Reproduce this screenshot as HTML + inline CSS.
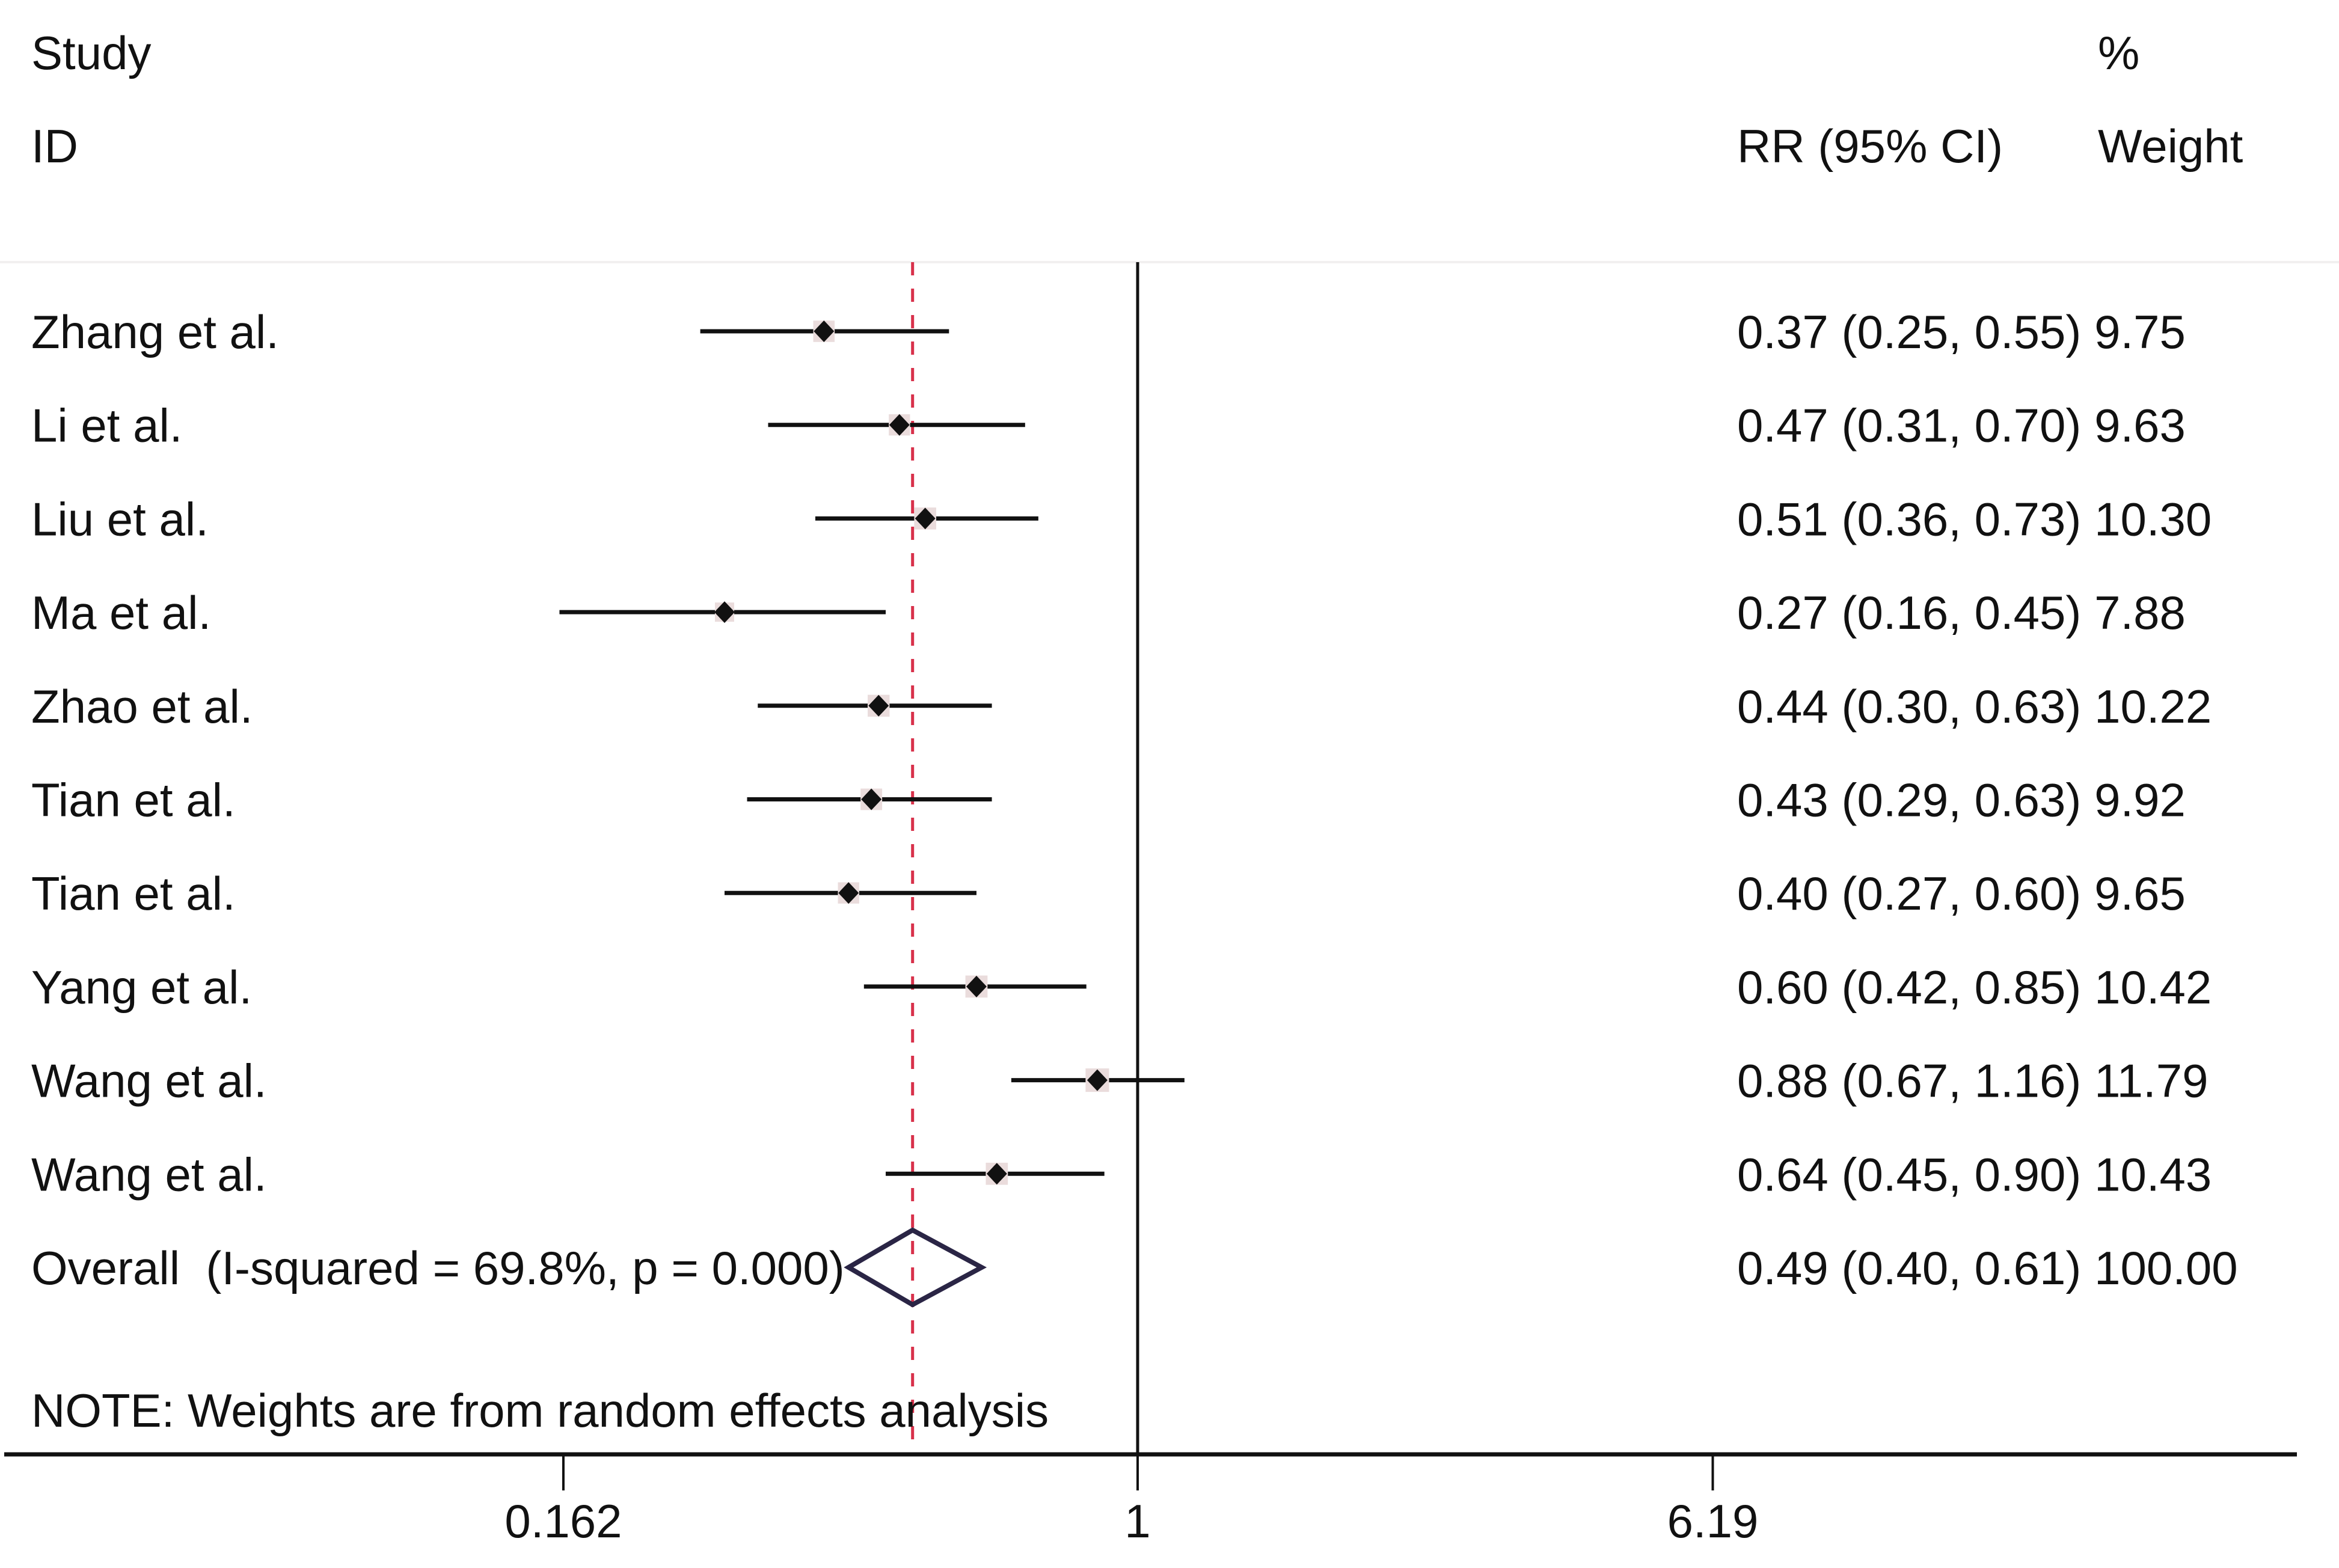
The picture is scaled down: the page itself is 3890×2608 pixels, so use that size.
<!DOCTYPE html>
<html><head><meta charset="utf-8"><style>
html,body{margin:0;padding:0;background:#fff;}
svg{display:block;}
text{font-family:"Liberation Sans",Arial,sans-serif;font-size:78px;fill:#111;}
</style></head><body>
<svg id="chart" width="3890" height="2608" viewBox="0 0 3890 2608" xmlns="http://www.w3.org/2000/svg">
<rect width="3890" height="2608" fill="#fff"/>
<text x="52" y="115">Study</text>
<text x="52" y="270">ID</text>
<text x="2889" y="270">RR (95% CI)</text>
<text x="3489" y="115">%</text>
<text x="3489" y="270">Weight</text>
<line x1="0" y1="436" x2="3890" y2="436" stroke="#f2f0f0" stroke-width="4"/>
<g id="plot"></g>
<text x="52" y="2373">NOTE: Weights are from random effects analysis</text>
</svg>
<script>
const studies = ["Zhang et al.","Li et al.","Liu et al.","Ma et al.","Zhao et al.","Tian et al.","Tian et al.","Yang et al.","Wang et al.","Wang et al."];
const rr = [0.37,0.47,0.51,0.27,0.44,0.43,0.40,0.60,0.88,0.64];
const lower = [0.25,0.31,0.36,0.16,0.30,0.29,0.27,0.42,0.67,0.45];
const upper = [0.55,0.70,0.73,0.45,0.63,0.63,0.60,0.85,1.16,0.90];
const weights = ["9.75","9.63","10.30","7.88","10.22","9.92","9.65","10.42","11.79","10.43"];
const overall = [0.49,0.40,0.61];
const overallWeight = "100.00";
const overallLabel = "Overall  (I-squared = 69.8%, p = 0.000)";
const tickValues = [0.162,1,6.19];
const tickLabels = ["0.162","1","6.19"];

const NS="http://www.w3.org/2000/svg";
const g=document.getElementById('plot');
const X0=1892, K=524.7;
const xs=v=>X0+K*Math.log(v);
const rowY=i=>551+155.7*i;
const AXY=2419;
function mk(tag,attrs,parent){const e=document.createElementNS(NS,tag);for(const k in attrs)e.setAttribute(k,attrs[k]);(parent||g).appendChild(e);return e;}
const fmt=v=>v.toFixed(2);

let e=mk('line',{x1:X0,y1:436,x2:X0,y2:AXY,stroke:'#111','stroke-width':5});


e=mk('line',{x1:xs(overall[0]),y1:436,x2:xs(overall[0]),y2:AXY,stroke:'#d8304a','stroke-width':5,'stroke-dasharray':'22 22'});



studies.forEach((s,i)=>{
  const y=rowY(i);
  let t=mk('text',{x:52,y:y+28});t.textContent=s;
  
  
  let ci=mk('line',{x1:xs(lower[i]),y1:y,x2:xs(upper[i]),y2:y,stroke:'#111','stroke-width':7});
  
  
  const h=18*Math.sqrt(parseFloat(weights[i])/10);
  let sq=mk('rect',{x:xs(rr[i])-h,y:y-h,width:2*h,height:2*h,fill:'#eadcdc'});
  
  
  const x=xs(rr[i]);
  let d=mk('polygon',{points:`${x-17},${y} ${x},${y-18} ${x+17},${y} ${x},${y+18}`,fill:'#111'});
  
  
  let v=mk('text',{x:2889,y:y+28});v.textContent=`${fmt(rr[i])} (${fmt(lower[i])}, ${fmt(upper[i])}) ${weights[i]}`;
  
  
});
const oy=rowY(10);
let ot=mk('text',{x:52,y:oy+28});ot.textContent=overallLabel;ot.style.whiteSpace='pre';


const cx=xs(overall[0]),lx=xs(overall[1]),rx=xs(overall[2]);
let od=mk('polygon',{points:`${lx},${oy} ${cx},${oy-62} ${rx},${oy} ${cx},${oy+62}`,fill:'none',stroke:'#2a2545','stroke-width':8});


let ov=mk('text',{x:2889,y:oy+28});ov.textContent=`${fmt(overall[0])} (${fmt(overall[1])}, ${fmt(overall[2])}) ${overallWeight}`;



let ax=mk('line',{x1:7,y1:AXY,x2:3820,y2:AXY,stroke:'#111','stroke-width':7});


tickValues.forEach((v,i)=>{
  const x=xs(v);
  let tk=mk('line',{x1:x,y1:AXY,x2:x,y2:AXY+60,stroke:'#111','stroke-width':4});
  
  
  let tl=mk('text',{x:x,y:2557,'text-anchor':'middle'});tl.textContent=tickLabels[i];
  
  
});
</script>
</body></html>
